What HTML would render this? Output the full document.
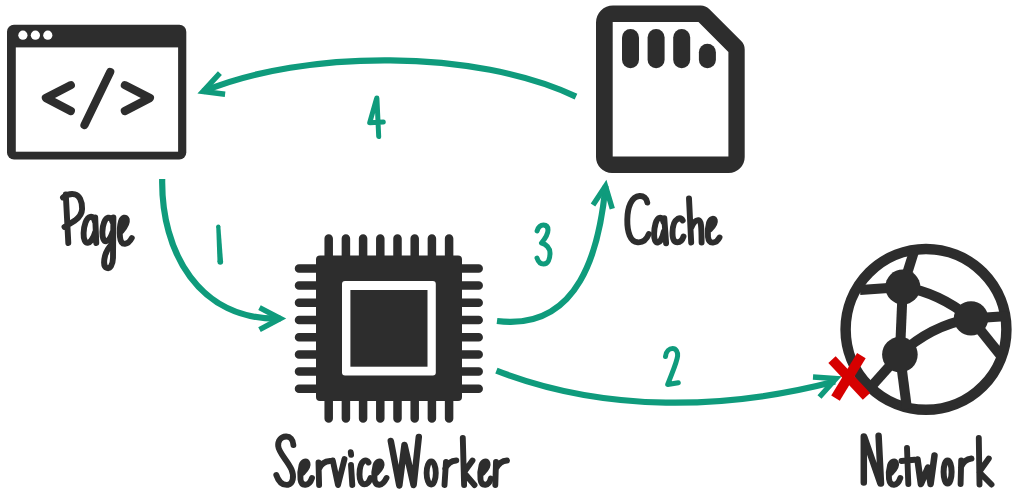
<!DOCTYPE html>
<html><head><meta charset="utf-8">
<style>
html,body{margin:0;padding:0;background:#fff;}
body{width:1014px;height:492px;overflow:hidden;font-family:"Liberation Sans",sans-serif;}
svg{display:block;}
</style></head>
<body>
<svg width="1014" height="492" viewBox="0 0 1014 492">
<rect width="1014" height="492" fill="#fff"/>
<!-- Page window icon -->
<g id="page">
<rect x="7" y="24.7" width="179.3" height="134.8" rx="7" fill="#2d2d2d"/>
<rect x="15.8" y="47.4" width="162.3" height="104.3" fill="#fff"/>
<circle cx="22.9" cy="35.2" r="4.6" fill="#fff"/>
<circle cx="35.4" cy="35.2" r="4.6" fill="#fff"/>
<circle cx="47.8" cy="35.2" r="4.6" fill="#fff"/>
<g fill="none" stroke="#2d2d2d" stroke-width="8.2" stroke-linecap="round" stroke-linejoin="round">
<polyline points="70.8,85.2 45.9,98 70.8,111"/>
<line x1="110.2" y1="72" x2="84.5" y2="125"/>
<polyline points="124.9,85.2 149.9,98 124.9,111"/>
</g>
</g>
<!-- Cache SD card icon -->
<g id="cache" fill="#2d2d2d">
<path fill-rule="evenodd" d="M613,5.5 H700.7 A12,12 0 0 1 709.2,9 L741.2,41 A12,12 0 0 1 744.7,49.5 V157 A16,16 0 0 1 728.7,173 H612 A16,16 0 0 1 596,157 V22.5 A17,17 0 0 1 613,5.5 Z M612.7,22 V156.4 H728.4 V52 L698.5,22 Z"/>
<rect x="622" y="29" width="17" height="39.3" rx="8.5"/>
<rect x="647.6" y="29" width="17" height="39.3" rx="8.5"/>
<rect x="673.2" y="29" width="17" height="39.3" rx="8.5"/>
<rect x="698.9" y="43.7" width="17" height="24.6" rx="8.5"/>
</g>
<!-- ServiceWorker chip -->
<g id="chip">
<g stroke="#2d2d2d" stroke-width="8.5" stroke-linecap="round">
<path d="M328.7,238.5V260 M345.9,238.5V260 M363.1,238.5V260 M380.3,238.5V260 M397.5,238.5V260 M414.7,238.5V260 M431.9,238.5V260 M449.1,238.5V260"/>
<path d="M328.7,418.5V396 M345.9,418.5V396 M363.1,418.5V396 M380.3,418.5V396 M397.5,418.5V396 M414.7,418.5V396 M431.9,418.5V396 M449.1,418.5V396"/>
<path d="M299,268.4H320 M299,285.6H320 M299,302.8H320 M299,320H320 M299,337.2H320 M299,354.4H320 M299,371.6H320 M299,388.8H320"/>
<path d="M478.7,268.4H458 M478.7,285.6H458 M478.7,302.8H458 M478.7,320H458 M478.7,337.2H458 M478.7,354.4H458 M478.7,371.6H458 M478.7,388.8H458"/>
</g>
<rect x="316" y="255.6" width="146" height="145.4" rx="4" fill="#2d2d2d"/>
<rect x="342" y="281" width="93.8" height="94.6" rx="3" fill="#fff"/>
<rect x="350.4" y="290" width="77.1" height="76.7" fill="#2d2d2d"/>
</g>
<!-- Network globe -->
<g id="globe">
<circle cx="926" cy="329.4" r="80.4" fill="none" stroke="#2d2d2d" stroke-width="10.5"/>
<g fill="none" stroke="#2d2d2d" stroke-width="10">
<path d="M902.8,287 L914.5,250"/>
<path d="M902.8,287 L860,290"/>
<path d="M902.8,287 L899.9,354.5"/>
<path d="M902.8,287 Q938,292 971,318.4"/>
<path d="M971,318.4 L1008,316"/>
<path d="M971,318.4 L1002,357"/>
<path d="M899.9,354.5 Q930,326 971,318.4"/>
<path d="M899.9,354.5 L870,388"/>
<path d="M899.9,354.5 L907,409"/>
</g>
<g fill="#2d2d2d">
<circle cx="902.8" cy="287" r="17.5"/>
<circle cx="971" cy="318.4" r="17.2"/>
<circle cx="899.9" cy="354.6" r="17.8"/>
</g>
</g>
<!-- Labels -->
<g fill="none" stroke="#2d2d2d" stroke-width="5.9" stroke-linecap="round" stroke-linejoin="round">
<!-- Page -->
<path d="M65.8,194.5 L68.3,243 M63,197.5 C66,195 70.5,193.5 75,194.3 C79,195 82.3,201 82.1,208.8 C82,214 79,217.5 75,220.5 C72,222.5 68.5,224.5 64.5,227"/>
<path d="M95,222 C94.2,218 92.3,216.5 90.3,216.8 C86.3,217.5 83.8,226 83.6,233 C83.4,240 85.3,243 87.8,242.8 C90.8,242.5 93.8,237 95.2,232 M95.2,217.5 L96.3,243"/>
<path d="M112.5,222 C111.5,218.5 110,217.3 108.3,217.7 C104.8,218.5 102.6,225 102.4,231.5 C102.2,238 103.8,241.5 106,241.3 C108.8,241 111,237 112.7,232 M113.4,217.5 L113,258 C112.8,265 110,269 107,268 C104,267 103.5,262 105,256 C106.5,250 109,247 112,244"/>
<path d="M121.5,231 C124.5,227.5 127.5,223 126.8,219.5 C126,216.5 122.5,217 121,221.5 C119.8,225.5 119.5,232 120,237 C120.5,242 122.5,244 125,243.8 C128,243.5 130.5,240.5 131.8,238"/>
<!-- Cache -->
<path d="M647.3,202.5 C646.8,198 643.5,195.8 639.5,196 C631.5,196.5 627.5,207 627.3,219.5 C627.1,232.5 630.5,241.8 637.5,242.3 C643,242.8 646.8,239 648.8,234"/>
<path d="M663.5,222 C662.7,218.5 661.3,217.5 659.5,217.9 C656,218.7 654.2,227 654.1,234 C654,240 655.5,242.8 657.8,242.5 C660.5,242.2 662.7,237 663.9,231.5 M664.3,218.2 L666.1,243.2"/>
<path d="M682.7,220.5 C681.5,218.3 679.5,218 677.5,219 C674,221 672.5,227 672.5,233 C672.5,239 674.5,242.3 677.5,242.3 C680.5,242.3 682.5,239.5 683.5,236.5"/>
<path d="M689,198.5 L691.2,242.5 M691.3,227.5 C693,222.5 696,219.8 698.5,220.2 C701,220.7 701.5,225 701.6,242.5"/>
<path d="M710,229.5 C713,226.5 715.5,223 714.8,220.3 C714,217.7 710.5,218.3 709,223 C707.8,227 707.5,233 708,237 C708.5,241 710.5,242.8 713,242.6 C716,242.3 718.3,240 719.5,237.5"/>
<!-- ServiceWorker -->
<path d="M293.4,445 C293.2,439.5 290,436.3 286,436.5 C280.5,436.8 277.8,441 278.2,446 C278.8,453 287.5,460.5 291.5,469.5 C294.5,476.5 293,484 288,484.8 C282.5,485.5 278.5,481.5 276.3,475"/>
<path d="M302.5,473 C305.5,470 308.5,466.5 307.5,463.5 C306.5,460.5 303,461 301.5,465.5 C300.3,469.5 300,475.5 300.5,479.5 C301,483.5 303,485 305.5,484.8 C308.5,484.5 311,481 312,478"/>
<path d="M318.5,462.5 L319.1,485 M319,469 C321,464 324.5,461.3 330,461"/>
<path d="M332.8,460.5 L338,485 L344.5,459"/>
<path d="M351,465 L352.3,485 M350.8,452.3 L351.1,454.8"/>
<path d="M368.5,462.5 C367.5,460.3 365.5,460 363.8,461 C360.8,463 359.5,468.5 359.5,474.5 C359.5,480.5 361.5,484.3 364.5,484.3 C367.5,484.3 369.5,481 370.5,478"/>
<path d="M376.5,473 C379.5,470 382.5,466.5 381.5,463.5 C380.5,460.5 377,461 375.5,465.5 C374.3,469.5 374,475.5 374.5,479.5 C375,483.5 377,485 379.5,484.8 C382.5,484.5 385,481 386.5,478"/>
<path d="M446,462 L444.5,485 M445.2,468.5 C447.5,463.5 451,460.8 456.3,460.5"/>
<path d="M462.8,438 L464.1,485 M472.5,460.5 L463.8,472.5 L474.5,485"/>
<path d="M482.5,473 C485.5,470 488.5,466.5 487.5,463.5 C486.5,460.5 483,461 481.5,465.5 C480.3,469.5 480,475.5 480.5,479.5 C481,483.5 483,485 485.5,484.8 C488,484.5 490,481.5 490.8,478.5"/>
<path d="M496,462 L495.3,485 M496,468.5 C498.5,463.5 502,460.8 507,460.5"/>
<!-- Network -->
<path d="M891,473 C894,470 897,466.5 896,463.5 C895,460.5 891.5,461 890,465.5 C888.8,469.5 888.5,475 889,479 C889.5,483 891.5,485 894,484.8 C897,484.5 899.3,481 900.3,478"/>
<path d="M907,448 L908.3,484 M901.5,461 L914.5,459.8"/>
<path d="M961.2,460.5 L960.6,484 M961,467 C963,462 967,459 971.5,458.5"/>
<path d="M978.8,438 L979.5,484.5 M988.8,458.5 L979.2,472 L991.5,484.5"/>
</g>
<g fill="none" stroke="#2d2d2d" stroke-width="6.5" stroke-linecap="round" stroke-linejoin="round">
<path d="M390.8,441 L399.3,485.5 L404.5,445 L413.6,485 L418.8,437"/>
<ellipse cx="431.2" cy="473" rx="4.6" ry="11.5" stroke-width="5.8"/>
<path d="M863.8,436.5 L863.8,482.5 M864.3,437 L880.4,483.5 M878.6,435.8 L881,483.5"/>
<path d="M917.5,459.5 L920.9,484 L928,467.5 L930.6,484 L934.5,455.5"/>
<ellipse cx="947.6" cy="472" rx="4" ry="11.6" stroke-width="6"/>
</g>
<!-- Digits -->
<g fill="none" stroke="#0f9b7c" stroke-width="5" stroke-linecap="round" stroke-linejoin="round">
<path d="M216.2,226.6 L220.4,226.4 L223.1,262.1 L217.5,262.1 Z" fill="#0f9b7c" stroke="none"/><circle cx="218.3" cy="226.5" r="2.1" fill="#0f9b7c" stroke="none"/><circle cx="220.3" cy="262" r="2.8" fill="#0f9b7c" stroke="none"/>
<path d="M665.5,356.4 C666,351 669.5,348.5 672.6,348.5 C676,348.5 678,352 677.6,356 C677,362 672,373 667.7,384.5 L678.3,382.7"/>
<path d="M537.1,230.9 C538.5,226.5 541,225 543.5,225 C546.5,225 548,227 548,230 C548,235 544,240 541.5,243 C546,244 550,248 550,253 C550,259 548,264 543.5,264 C540,264 538,261 537,258"/>
<path d="M376.9,98 L378.7,136.5 M376.6,98.5 L369.7,122.7 L383.3,121.9"/>
</g>
<!-- Arrows -->
<g fill="none" stroke="#0f9b7c" stroke-width="6.2" stroke-linejoin="miter" stroke-miterlimit="10">
<path d="M162.2,179 C161.0,251.3 198.8,321.2 280.5,318.5"/>
<polyline points="259.5,307.7 280.4,318.5 259.5,329.6" stroke-width="5.4"/>
<path d="M496.4,370.6 C605.8,413.2 726.3,409.7 835,381.5"/>
<polyline points="813,377 836,378.5 819.5,397" stroke-width="5.4"/>
<path d="M497,321 C580.1,331.4 599.6,248.2 605.5,186"/>
<polyline points="593,205.1 605.5,186 612.3,208.7" stroke-width="5.4"/>
<path d="M576,96.6 C476.4,49.1 304.6,49.2 203,91.5"/>
<polyline points="219.9,73.2 203,91.5 225.1,94.2" stroke-width="5.4"/>
</g>
<!-- Red X -->
<g stroke="#d60000" stroke-width="10">
<line x1="832" y1="359.6" x2="866.5" y2="396.3"/>
<line x1="861.4" y1="355.6" x2="835.5" y2="398.2"/>
</g>
</svg>
</body></html>
